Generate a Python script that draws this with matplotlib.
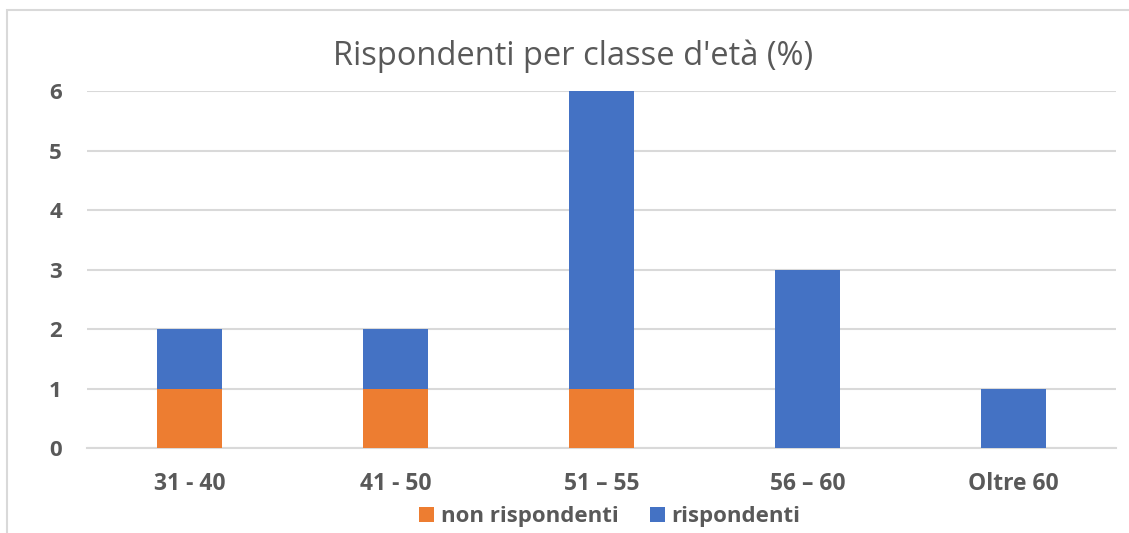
import matplotlib.pyplot as plt
from matplotlib.patches import Rectangle

# data
categories = ['31 - 40', '41 - 50', '51 – 55', '56 – 60', 'Oltre 60']
non_rispondenti = [1, 1, 1, 0, 0]
rispondenti = [1, 1, 5, 3, 1]
title = "Rispondenti per classe d'età (%)"

plt.rcParams['font.family'] = ['Open Sans', 'DejaVu Sans']
gray = '#595959'

fig = plt.figure(figsize=(11.29, 5.33), dpi=100)
ax = fig.add_axes([0.077, 0.1595, 0.9115, 0.6695])

index = range(len(categories))
bar_width = 0.316
bars1 = ax.bar(index, non_rispondenti, width=bar_width, color='#ED7D31',
               label='non rispondenti', zorder=3)
bars2 = ax.bar(index, rispondenti, width=bar_width, bottom=non_rispondenti,
               color='#4472C4', label='rispondenti', zorder=3)

ax.set_xlim(-0.5, len(categories) - 0.5)
ax.set_ylim(0, 6)
ax.set_yticks(range(0, 7))
ax.set_xticks(list(index))
ax.set_xticklabels(categories)
ax.yaxis.grid(True, color='#D9D9D9', linewidth=1.5, zorder=0)
for s in ['top', 'right', 'left']:
    ax.spines[s].set_visible(False)
ax.spines['bottom'].set_color('#D9D9D9')
ax.spines['bottom'].set_linewidth(1.5)
ax.tick_params(length=0, colors=gray)
ax.tick_params(axis='y', pad=18, labelsize=16)
ax.tick_params(axis='x', pad=17, labelsize=16.5)
for lbl in ax.get_xticklabels() + ax.get_yticklabels():
    lbl.set_fontweight('bold')

fig.text(0.508, 0.895, title, ha='center', va='center', fontsize=23.5, color=gray)

leg = ax.legend(loc='center', bbox_to_anchor=(0.508, -0.193), ncol=2,
                frameon=False, fontsize=16, handlelength=0.68, handleheight=0.68,
                handletextpad=0.3, columnspacing=1.4)
for t in leg.get_texts():
    t.set_color(gray)
    t.set_fontweight('bold')

# chart frame
fig.patches.append(Rectangle((7 / 1129, -0.1), 1.2, 1 - 10 / 533 + 0.1,
                             transform=fig.transFigure, fill=False,
                             edgecolor='#D9D9D9', linewidth=1.5))

fig.savefig('out.png', dpi=100)
